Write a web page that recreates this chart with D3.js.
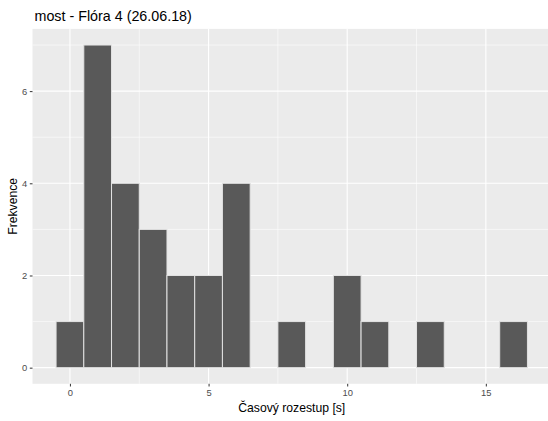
<!DOCTYPE html>
<html>
<head>
<meta charset="utf-8">
<script src="https://cdn.jsdelivr.net/npm/d3@7"></script>
<style>
  body { margin: 0; background: #fff; }
  svg { display: block; font-family: "Liberation Sans", Arial, sans-serif; }
</style>
</head>
<body>
<svg id="chart" width="548" height="421"></svg>
<script>
// Histogram of time gaps (bin width 1 s, bins centred on whole seconds)
const binCenters = [0, 1, 2, 3, 4, 5, 6, 7, 8, 9, 10, 11, 12, 13, 14, 15, 16];
const counts     = [1, 7, 4, 3, 2, 2, 4, 0, 1, 0, 2, 1, 0, 1, 0, 0, 1];
const xTicks = [0, 5, 10, 15];
const yTicks = [0, 2, 4, 6];
const xMinor = [2.5, 7.5, 12.5, 17.5];
const yMinor = [1, 3, 5, 7];
const titleText = "most - Flóra 4 (26.06.18)";
const xTitle = "Časový rozestup [s]";
const yTitle = "Frekvence";

const svg = d3.select("#chart");
const panel = { left: 32.5, right: 551, top: 28.9, bottom: 383.8 };

const x = d3.scaleLinear().domain([-1.35, 17.35]).range([panel.left, panel.right]);
const y = d3.scaleLinear().domain([-0.35, 7.35]).range([panel.bottom, panel.top]);

// panel background
svg.append("rect")
  .attr("x", panel.left).attr("y", panel.top)
  .attr("width", panel.right - panel.left).attr("height", panel.bottom - panel.top)
  .attr("fill", "#EBEBEB");

const grid = svg.append("g");
// minor grid
grid.selectAll(".xmin").data(xMinor).join("line")
  .attr("x1", d => x(d)).attr("x2", d => x(d))
  .attr("y1", panel.top).attr("y2", panel.bottom)
  .attr("stroke", "#fff").attr("stroke-width", 0.55);
grid.selectAll(".ymin").data(yMinor).join("line")
  .attr("y1", d => y(d)).attr("y2", d => y(d))
  .attr("x1", panel.left).attr("x2", panel.right)
  .attr("stroke", "#fff").attr("stroke-width", 0.55);
// major grid
grid.selectAll(".xmaj").data(xTicks).join("line")
  .attr("x1", d => x(d)).attr("x2", d => x(d))
  .attr("y1", panel.top).attr("y2", panel.bottom)
  .attr("stroke", "#fff").attr("stroke-width", 1.1);
grid.selectAll(".ymaj").data(yTicks).join("line")
  .attr("y1", d => y(d)).attr("y2", d => y(d))
  .attr("x1", panel.left).attr("x2", panel.right)
  .attr("stroke", "#fff").attr("stroke-width", 1.1);

// bars
const bins = binCenters.map((c, i) => ({ c, n: counts[i] })).filter(d => d.n > 0);
svg.append("g").selectAll("rect").data(bins).join("rect")
  .attr("x", d => x(d.c - 0.5))
  .attr("width", d => x(d.c + 0.5) - x(d.c - 0.5))
  .attr("y", d => y(d.n))
  .attr("height", d => y(0) - y(d.n))
  .attr("fill", "#595959")
  .attr("stroke", "#e2e2e2")
  .attr("stroke-width", 1);

// axes
const xAxis = d3.axisBottom(x).tickValues(xTicks).tickSize(2.7).tickPadding(2.5).tickFormat(d3.format("d"));
const gx = svg.append("g").attr("transform", `translate(0,${panel.bottom})`).call(xAxis);
const yAxis = d3.axisLeft(y).tickValues(yTicks).tickSize(2.7).tickPadding(2.5).tickFormat(d3.format("d"));
const gy = svg.append("g").attr("transform", `translate(${panel.left},0)`).call(yAxis);
[gx, gy].forEach(g => {
  g.select(".domain").remove();
  g.selectAll(".tick line").attr("stroke", "#333").attr("stroke-width", 1);
  g.selectAll(".tick text").attr("fill", "#4D4D4D").style("font-size", "9.4px")
    .style("font-family", '"Liberation Sans", Arial, sans-serif');
});

// titles
svg.append("text")
  .attr("x", panel.left + 2).attr("y", 21)
  .attr("fill", "#000").style("font-size", "14.3px")
  .text(titleText);
svg.append("text")
  .attr("x", (panel.left + panel.right) / 2).attr("y", 411.5)
  .attr("text-anchor", "middle").attr("fill", "#000").style("font-size", "12.2px")
  .text(xTitle);
svg.append("text")
  .attr("transform", `translate(17,${(panel.top + panel.bottom) / 2}) rotate(-90)`)
  .attr("text-anchor", "middle").attr("fill", "#000").style("font-size", "12.2px")
  .text(yTitle);
</script>
</body>
</html>
